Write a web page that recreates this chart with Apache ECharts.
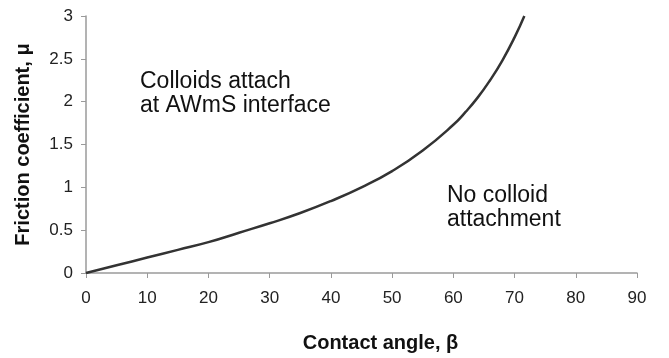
<!DOCTYPE html>
<html>
<head>
<meta charset="utf-8">
<script src="https://cdn.jsdelivr.net/npm/echarts@6/dist/echarts.min.js"></script>
<style>
  html, body { margin: 0; padding: 0; background: #fff; }
  #chart { width: 669px; height: 358px; }
</style>
</head>
<body>
<div id="chart"></div>
<script>
// contact angle (deg) vs friction coefficient
var angle    = [0, 5, 10, 15, 20, 25, 30, 35, 40, 45, 50, 55, 60, 62, 64, 66, 68, 70, 71.6];
var friction = [0, 0.09, 0.18, 0.27, 0.36, 0.47, 0.58, 0.70, 0.84, 1.0, 1.19, 1.43, 1.73, 1.88, 2.05, 2.25, 2.48, 2.75, 3.0];

var points = angle.map(function (a, i) { return [a, friction[i]]; });

var chart = echarts.init(document.getElementById('chart'));

var font = 'Liberation Sans, Arial, sans-serif';

var option = {
  animation: false,
  grid: { left: 86, right: 32, top: 16, bottom: 84 },
  xAxis: {
    type: 'value',
    min: 0, max: 90, interval: 10,
    name: 'Contact angle, β',
    nameLocation: 'middle',
    nameGap: 60,
    nameTextStyle: { fontFamily: font, fontWeight: 'bold', fontSize: 20, color: '#111', padding: [0, 0, 0, 38] },
    axisLine: { lineStyle: { color: '#9a9a9a', width: 1.5 } },
    axisTick: { show: true, length: 5, lineStyle: { color: '#9a9a9a' } },
    axisLabel: { fontFamily: font, fontSize: 17, color: '#222', margin: 17 },
    splitLine: { show: false }
  },
  yAxis: {
    type: 'value',
    min: 0, max: 3, interval: 0.5,
    name: 'Friction coefficient, μ',
    nameLocation: 'middle',
    nameGap: 53,
    nameTextStyle: { fontFamily: font, fontWeight: 'bold', fontSize: 20, color: '#111' },
    axisLine: { show: true, lineStyle: { color: '#9a9a9a', width: 1.5 } },
    axisTick: { show: true, length: 5, lineStyle: { color: '#9a9a9a' } },
    axisLabel: { fontFamily: font, fontSize: 17, color: '#222', margin: 13 },
    splitLine: { show: false }
  },
  series: [{
    type: 'line',
    data: points,
    smooth: true,
    showSymbol: false,
    lineStyle: { color: '#333', width: 2.5 }
  }],
  graphic: [
    {
      type: 'text', left: 140, top: 70,
      style: { text: 'Colloids attach\nat AWmS interface', font: '23px ' + font, fill: '#111', lineHeight: 24 }
    },
    {
      type: 'text', left: 447, top: 184,
      style: { text: 'No colloid\nattachment', font: '23px ' + font, fill: '#111', lineHeight: 24 }
    }
  ]
};

chart.setOption(option);
</script>
</body>
</html>
